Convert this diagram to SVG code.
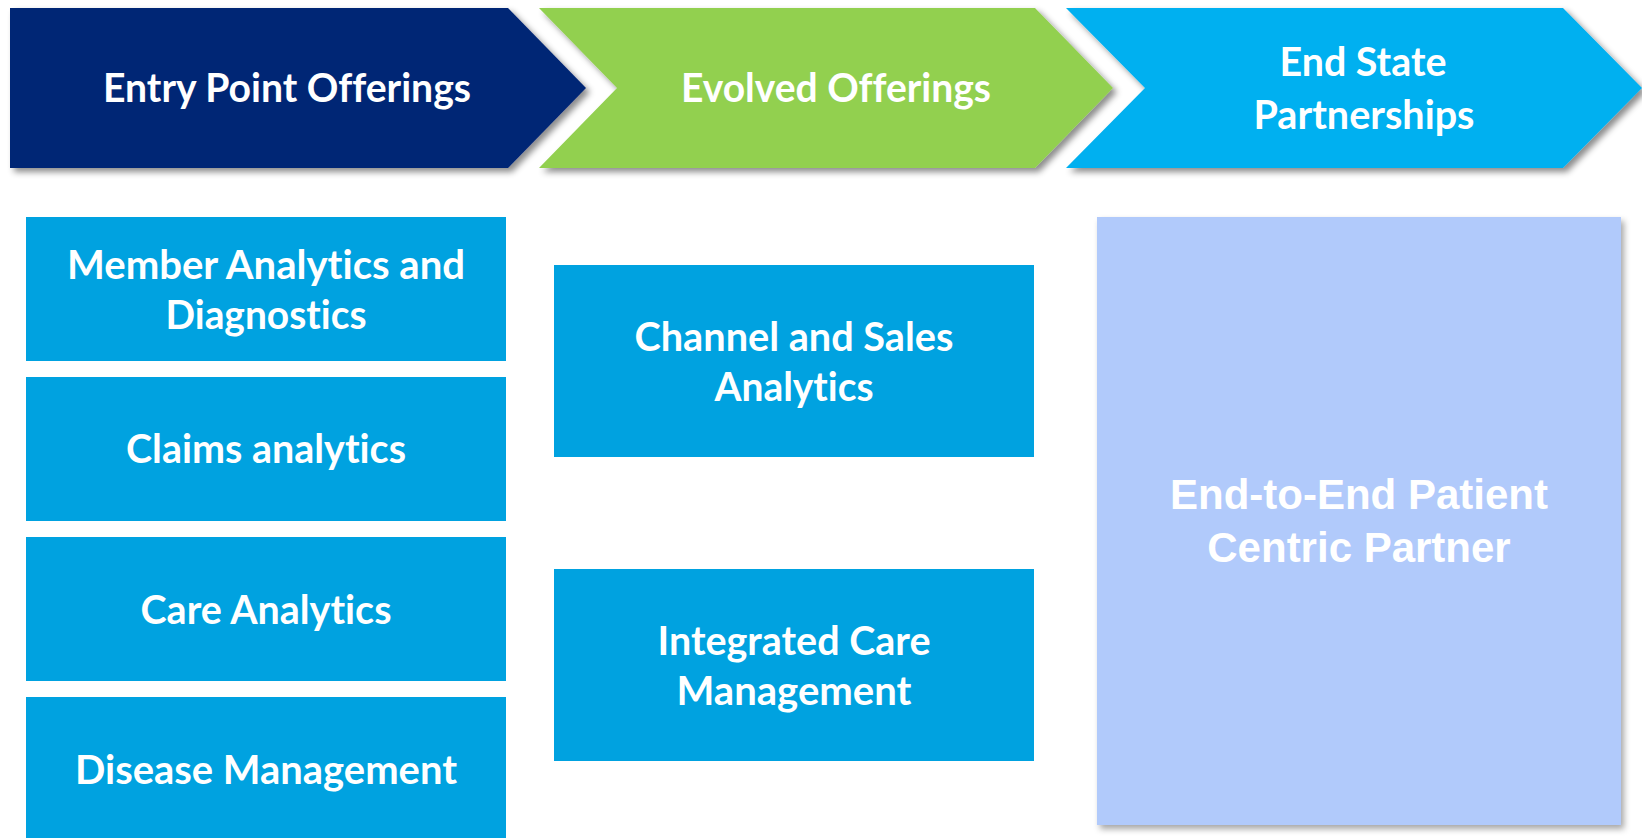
<svg xmlns="http://www.w3.org/2000/svg" width="1642" height="838" viewBox="0 0 1642 838">
  <defs>
    <filter id="shadow" x="-5%" y="-10%" width="115%" height="130%">
      <feDropShadow dx="4" dy="4" stdDeviation="3" flood-color="#000" flood-opacity="0.45"/>
    </filter>
    <filter id="shadow2" x="-5%" y="-5%" width="112%" height="110%">
      <feDropShadow dx="3" dy="4" stdDeviation="3" flood-color="#000" flood-opacity="0.35"/>
    </filter>
  </defs>
  <style>
    .hdr, .lbl { font-family: Lato, "Open Sans", sans-serif; font-weight: 700; font-size: 40px; fill: #ffffff; text-anchor: middle; font-variant-ligatures: none; font-feature-settings: "liga" 0, "clig" 0, "dlig" 0, "calt" 0; }
    .box { fill: #00A2E0; }
    .big { font-family: "Liberation Sans", Arial, sans-serif; font-weight: 700; font-size: 42px; fill: #ffffff; text-anchor: middle; }
  </style>
  <rect width="1642" height="838" fill="#ffffff"/>

  <g id="chevron-entry">
    <polygon points="10,8 508,8 586,88 508,168 10,168" fill="#002574" filter="url(#shadow)"/>
    <text class="hdr" x="287" y="102" textLength="368" lengthAdjust="spacingAndGlyphs">Entry Point Offerings</text>
  </g>
  <g id="chevron-evolved">
    <polygon points="539,8 1035,8 1113,88 1035,168 539,168 617,88" fill="#92D050" filter="url(#shadow)"/>
    <text class="hdr" x="836" y="102" textLength="310" lengthAdjust="spacingAndGlyphs">Evolved Offerings</text>
  </g>
  <g id="chevron-endstate">
    <polygon points="1066,8 1563,8 1642,88 1563,168 1066,168 1145,88" fill="#00B0F0" filter="url(#shadow)"/>
    <text class="hdr" x="1363" y="76" textLength="167" lengthAdjust="spacingAndGlyphs">End State</text>
    <text class="hdr" x="1364" y="129" textLength="221" lengthAdjust="spacingAndGlyphs">Partnerships</text>
  </g>

  <g id="member-analytics">
    <rect class="box" x="26" y="217" width="480" height="144"/>
    <text class="lbl" x="266" y="279" textLength="398" lengthAdjust="spacingAndGlyphs">Member Analytics and</text>
    <text class="lbl" x="266" y="329" textLength="201" lengthAdjust="spacingAndGlyphs">Diagnostics</text>
  </g>
  <g id="claims-analytics">
    <rect class="box" x="26" y="377" width="480" height="144"/>
    <text class="lbl" x="266" y="463" textLength="280" lengthAdjust="spacingAndGlyphs">Claims analytics</text>
  </g>
  <g id="care-analytics">
    <rect class="box" x="26" y="537" width="480" height="144"/>
    <text class="lbl" x="266" y="624" textLength="251" lengthAdjust="spacingAndGlyphs">Care Analytics</text>
  </g>
  <g id="disease-management">
    <rect class="box" x="26" y="697" width="480" height="144"/>
    <text class="lbl" x="266" y="784" textLength="382" lengthAdjust="spacingAndGlyphs">Disease Management</text>
  </g>

  <g id="channel-sales">
    <rect class="box" x="554" y="265" width="480" height="192"/>
    <text class="lbl" x="794" y="351" textLength="319" lengthAdjust="spacingAndGlyphs">Channel and Sales</text>
    <text class="lbl" x="794" y="401" textLength="159" lengthAdjust="spacingAndGlyphs">Analytics</text>
  </g>
  <g id="integrated-care">
    <rect class="box" x="554" y="569" width="480" height="192"/>
    <text class="lbl" x="794" y="655" textLength="273" lengthAdjust="spacingAndGlyphs">Integrated Care</text>
    <text class="lbl" x="794" y="705" textLength="235" lengthAdjust="spacingAndGlyphs">Management</text>
  </g>

  <g id="end-to-end">
    <rect x="1097" y="217" width="524" height="608" fill="#B1CAFB" filter="url(#shadow2)"/>
    <text class="big" x="1359" y="509">End-to-End Patient</text>
    <text class="big" x="1359" y="562">Centric Partner</text>
  </g>

  <g id="connectors"></g>
</svg>
